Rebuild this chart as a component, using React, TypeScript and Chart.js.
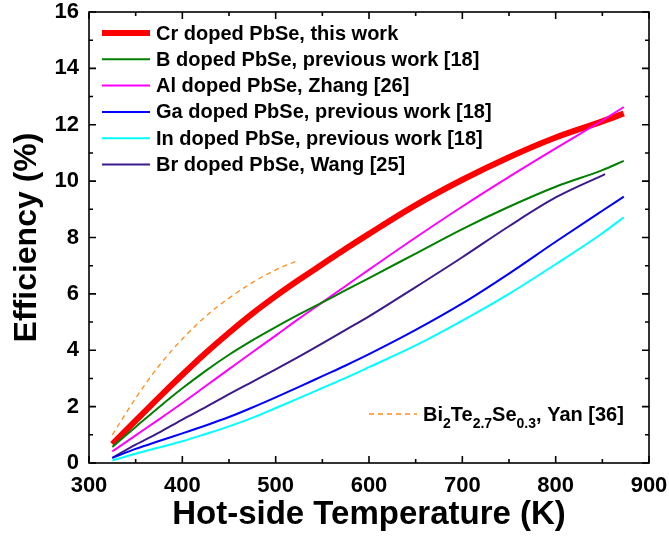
import React, { useEffect, useRef } from "react";
import { Chart, registerables } from "chart.js";

Chart.register(...registerables);

const FONT = '"Liberation Sans", Arial, Helvetica, sans-serif';

const temps = [325, 350, 375, 400, 425, 450, 475, 500, 525, 550, 575, 600, 650, 700, 750, 800, 850, 873];
const crDoped = [0.67, 1.5, 2.33, 3.13, 3.9, 4.62, 5.3, 5.92, 6.5, 7.05, 7.6, 8.13, 9.15, 10.05, 10.85, 11.55, 12.12, 12.4];
const bDoped = [0.57, 1.28, 1.98, 2.65, 3.27, 3.84, 4.35, 4.82, 5.27, 5.7, 6.13, 6.56, 7.43, 8.3, 9.09, 9.8, 10.39, 10.72];
const alDoped = [0.41, 0.98, 1.55, 2.13, 2.73, 3.33, 3.93, 4.52, 5.12, 5.7, 6.28, 6.86, 8.0, 9.1, 10.15, 11.16, 12.15, 12.63];
const gaDoped = [0.18, 0.5, 0.78, 1.05, 1.33, 1.63, 1.97, 2.33, 2.7, 3.08, 3.46, 3.86, 4.72, 5.66, 6.72, 7.85, 8.95, 9.45];
const inDoped = [0.09, 0.33, 0.55, 0.77, 1.03, 1.3, 1.6, 1.95, 2.3, 2.66, 3.02, 3.4, 4.17, 5.05, 6.0, 7.05, 8.15, 8.72];
const brTemps = [325, 350, 375, 400, 425, 450, 475, 500, 525, 550, 575, 600, 650, 700, 750, 800, 853];
const brDoped = [0.18, 0.65, 1.08, 1.54, 1.98, 2.44, 2.88, 3.32, 3.77, 4.24, 4.72, 5.2, 6.24, 7.3, 8.4, 9.42, 10.25];
const biTemps = [325, 350, 375, 400, 425, 450, 475, 500, 523];
const biTeSe = [1.0, 2.3, 3.45, 4.4, 5.2, 5.85, 6.4, 6.85, 7.17];

const xTicks = [300, 400, 500, 600, 700, 800, 900];
const yTicks = [0, 2, 4, 6, 8, 10, 12, 14, 16];

const legendLabels = [
  "Cr doped PbSe, this work",
  "B doped PbSe, previous work [18]",
  "Al doped PbSe, Zhang [26]",
  "Ga doped PbSe, previous work [18]",
  "In doped PbSe, previous work [18]",
  "Br doped PbSe, Wang [25]",
];
const seriesColors = ["#ff0000", "#008000", "#ff00ff", "#0000ff", "#00ffff", "#3a1a8c"];
const seriesWidths = [6, 2, 2, 2, 2, 2];
const biColor = "#ff8c1a";

const toPts = (xs: number[], ys: number[]) => xs.map((x, i) => ({ x, y: ys[i] }));

const framePlugin = {
  id: "framePlugin",
  afterDatasetsDraw(chart: any) {
    const { ctx, chartArea, scales } = chart;
    const { left, right, top, bottom } = chartArea;
    const xs = scales.x;
    const ys = scales.y;
    ctx.save();
    ctx.strokeStyle = "#000";
    ctx.lineWidth = 1.6;
    ctx.strokeRect(left, top, right - left, bottom - top);
    for (let v = 300; v <= 900; v += 50) {
      const px = xs.getPixelForValue(v);
      const len = v % 100 === 0 ? 7 : 4;
      ctx.beginPath();
      ctx.moveTo(px, bottom);
      ctx.lineTo(px, bottom - len);
      ctx.moveTo(px, top);
      ctx.lineTo(px, top + len);
      ctx.stroke();
    }
    for (let v = 0; v <= 16; v += 1) {
      const py = ys.getPixelForValue(v);
      const len = v % 2 === 0 ? 7 : 4;
      ctx.beginPath();
      ctx.moveTo(left, py);
      ctx.lineTo(left + len, py);
      ctx.moveTo(right, py);
      ctx.lineTo(right - len, py);
      ctx.stroke();
    }
    ctx.font = `bold 20px ${FONT}`;
    ctx.textBaseline = "middle";
    ctx.textAlign = "left";
    ctx.fillStyle = "#000";
    legendLabels.forEach((lab, i) => {
      const y = 33 + i * 26.3;
      ctx.beginPath();
      ctx.strokeStyle = seriesColors[i];
      ctx.lineWidth = seriesWidths[i];
      ctx.moveTo(102, y);
      ctx.lineTo(150, y);
      ctx.stroke();
      ctx.fillText(lab, 156, y + 1);
    });
    ctx.beginPath();
    ctx.strokeStyle = biColor;
    ctx.lineWidth = 1.3;
    ctx.setLineDash([5, 4]);
    ctx.moveTo(369, 414);
    ctx.lineTo(417, 414);
    ctx.stroke();
    ctx.setLineDash([]);
    ctx.textBaseline = "alphabetic";
    let x = 423;
    const base = 420.5;
    const parts: [string, boolean][] = [
      ["Bi", false], ["2", true], ["Te", false], ["2.7", true], ["Se", false], ["0.3", true], [", Yan [36]", false],
    ];
    parts.forEach(([t, sub]) => {
      ctx.font = sub ? `bold 14px ${FONT}` : `bold 20px ${FONT}`;
      ctx.fillText(t, x, sub ? base + 7 : base);
      x += ctx.measureText(t).width;
    });
    ctx.restore();
  },
};

const zeroPad = (s: any) => {
  s.paddingTop = 0;
  s.paddingBottom = 0;
  s.paddingLeft = 0;
  s.paddingRight = 0;
};

export default function App() {
  const ref = useRef<HTMLCanvasElement | null>(null);
  useEffect(() => {
    if (!ref.current) return;
    const seriesData = [crDoped, bDoped, alDoped, gaDoped, inDoped];
    const datasets: any[] = seriesData.map((d, i) => ({
      label: legendLabels[i],
      data: toPts(temps, d),
      borderColor: seriesColors[i],
      borderWidth: seriesWidths[i],
      pointRadius: 0,
      fill: false,
      cubicInterpolationMode: "monotone",
    }));
    datasets.push({
      label: legendLabels[5],
      data: toPts(brTemps, brDoped),
      borderColor: seriesColors[5],
      borderWidth: 2,
      pointRadius: 0,
      fill: false,
      cubicInterpolationMode: "monotone",
    });
    datasets.push({
      label: "Bi2Te2.7Se0.3, Yan [36]",
      data: toPts(biTemps, biTeSe),
      borderColor: biColor,
      borderWidth: 1.3,
      borderDash: [5, 4],
      pointRadius: 0,
      fill: false,
      cubicInterpolationMode: "monotone",
    });
    const ordered = [...datasets.slice(1), datasets[0]];
    const chart = new Chart(ref.current, {
      type: "line",
      data: { datasets: ordered },
      plugins: [framePlugin],
      options: {
        animation: false,
        responsive: false,
        maintainAspectRatio: false,
        layout: { padding: { left: 0, top: 12, right: 20, bottom: 0 } },
        plugins: { legend: { display: false }, tooltip: { enabled: false } },
        scales: {
          x: {
            type: "linear",
            min: 300,
            max: 900,
            afterBuildTicks: (s: any) => { s.ticks = xTicks.map((v) => ({ value: v })); },
            afterFit: (s: any) => { s.height = 75; zeroPad(s); },
            grid: { display: false, drawTicks: false },
            border: { display: false },
            ticks: {
              autoSkip: false,
              maxRotation: 0,
              padding: 10,
              color: "#000",
              font: { family: FONT, size: 22, weight: "bold" },
            },
            title: {
              display: true,
              text: "Hot-side Temperature (K)",
              color: "#000",
              padding: { top: 0, bottom: 3 },
              font: { family: FONT, size: 33, weight: "bold" },
            },
          },
          y: {
            type: "linear",
            min: 0,
            max: 16,
            afterBuildTicks: (s: any) => { s.ticks = yTicks.map((v) => ({ value: v })); },
            afterFit: (s: any) => { s.width = 89; zeroPad(s); },
            grid: { display: false, drawTicks: false },
            border: { display: false },
            ticks: {
              padding: 10,
              color: "#000",
              font: { family: FONT, size: 22, weight: "bold" },
            },
            title: {
              display: true,
              text: "Efficiency (%)",
              color: "#000",
              padding: { top: 8, bottom: 0 },
              font: { family: FONT, size: 32, weight: "bold" },
            },
          },
        },
      },
    });
    return () => chart.destroy();
  }, []);
  return (
    <div style={{ position: "absolute", left: 0, top: 0, width: 669, height: 538, background: "#fff" }}>
      <canvas ref={ref} width={669} height={538} style={{ width: 669, height: 538, display: "block" }} />
    </div>
  );
}
